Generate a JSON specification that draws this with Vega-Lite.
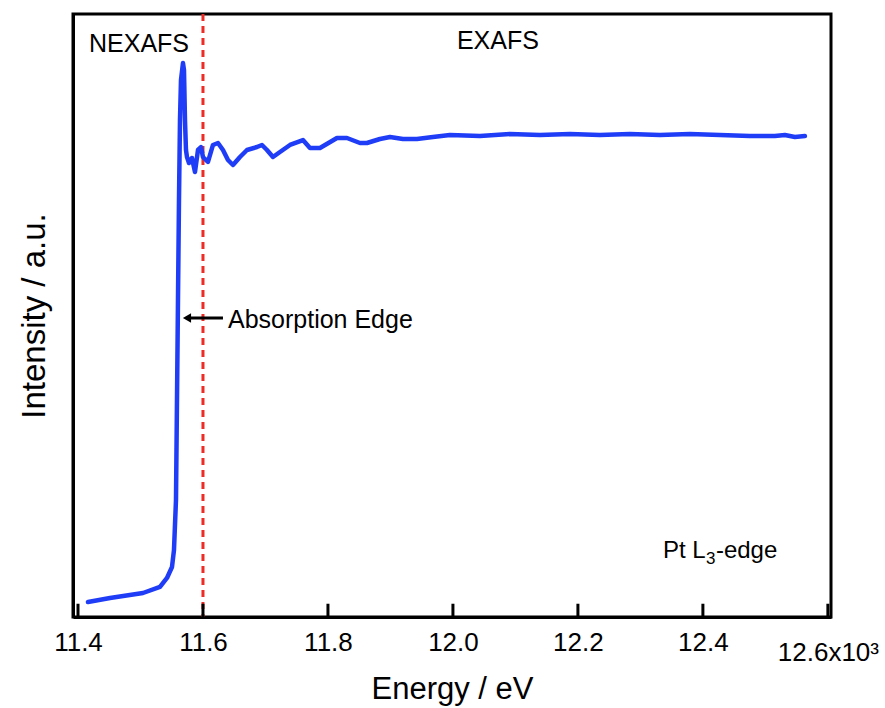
{
  "$schema": "https://vega.github.io/schema/vega-lite/v6.json",
  "width": 758,
  "height": 603,
  "autosize": "none",
  "padding": {"left": 73, "top": 14, "right": 54, "bottom": 91},
  "background": "white",
  "config": {
    "view": {"stroke": "black", "strokeWidth": 3},
    "font": "Liberation Sans"
  },
  "datasets": {
    "spectrum": [
      {"E": 11.416, "I": 0.0249},
      {"E": 11.4512, "I": 0.0315},
      {"E": 11.504, "I": 0.0398},
      {"E": 11.5312, "I": 0.0498},
      {"E": 11.5424, "I": 0.0647},
      {"E": 11.5504, "I": 0.0829},
      {"E": 11.5536, "I": 0.1111},
      {"E": 11.5568, "I": 0.194},
      {"E": 11.5584, "I": 0.3599},
      {"E": 11.56, "I": 0.5257},
      {"E": 11.5616, "I": 0.6915},
      {"E": 11.5632, "I": 0.8242},
      {"E": 11.5648, "I": 0.8905},
      {"E": 11.568, "I": 0.9187},
      {"E": 11.5696, "I": 0.9071},
      {"E": 11.5712, "I": 0.8242},
      {"E": 11.5728, "I": 0.7745},
      {"E": 11.5744, "I": 0.7629},
      {"E": 11.5776, "I": 0.7529},
      {"E": 11.5824, "I": 0.7612},
      {"E": 11.5872, "I": 0.738},
      {"E": 11.592, "I": 0.7745},
      {"E": 11.5968, "I": 0.7794},
      {"E": 11.6, "I": 0.7629},
      {"E": 11.608, "I": 0.7546},
      {"E": 11.616, "I": 0.7828},
      {"E": 11.624, "I": 0.7861},
      {"E": 11.632, "I": 0.7745},
      {"E": 11.64, "I": 0.7579},
      {"E": 11.648, "I": 0.7496},
      {"E": 11.6592, "I": 0.7629},
      {"E": 11.6704, "I": 0.7745},
      {"E": 11.6864, "I": 0.7794},
      {"E": 11.6944, "I": 0.7828},
      {"E": 11.7024, "I": 0.7745},
      {"E": 11.712, "I": 0.7629},
      {"E": 11.7232, "I": 0.7711},
      {"E": 11.7392, "I": 0.7828},
      {"E": 11.76, "I": 0.791},
      {"E": 11.7712, "I": 0.7778},
      {"E": 11.7872, "I": 0.7778},
      {"E": 11.8144, "I": 0.7944},
      {"E": 11.8304, "I": 0.7944},
      {"E": 11.8512, "I": 0.7861},
      {"E": 11.8624, "I": 0.7861},
      {"E": 11.8832, "I": 0.7927},
      {"E": 11.8992, "I": 0.796},
      {"E": 11.92, "I": 0.7927},
      {"E": 11.9424, "I": 0.7927},
      {"E": 11.968, "I": 0.796},
      {"E": 11.9952, "I": 0.7993},
      {"E": 12.0432, "I": 0.7977},
      {"E": 12.0912, "I": 0.801},
      {"E": 12.1392, "I": 0.7993},
      {"E": 12.1872, "I": 0.801},
      {"E": 12.2352, "I": 0.7993},
      {"E": 12.2832, "I": 0.801},
      {"E": 12.3312, "I": 0.7993},
      {"E": 12.3792, "I": 0.801},
      {"E": 12.4272, "I": 0.7993},
      {"E": 12.4752, "I": 0.7977},
      {"E": 12.5152, "I": 0.7977},
      {"E": 12.5312, "I": 0.7993},
      {"E": 12.5472, "I": 0.796},
      {"E": 12.5632, "I": 0.7977}
    ],
    "tickmarks": [
      {"E": 11.4, "lo": 0, "hi": 0.022},
      {"E": 11.6, "lo": 0, "hi": 0.022},
      {"E": 11.8, "lo": 0, "hi": 0.022},
      {"E": 12.0, "lo": 0, "hi": 0.022},
      {"E": 12.2, "lo": 0, "hi": 0.022},
      {"E": 12.4, "lo": 0, "hi": 0.022},
      {"E": 12.6, "lo": 0, "hi": 0.022}
    ],
    "centerLabels": [
      {"E": 11.4976, "I": 0.937, "label": "NEXAFS"},
      {"E": 12.072, "I": 0.942, "label": "EXAFS"}
    ],
    "leftLabels": [
      {"E": 11.64, "I": 0.4793, "label": "Absorption Edge"}
    ],
    "edgeLabel": [
      {"E": 12.336, "I": 0.0978, "main": "Pt L", "sub": "3", "tail": "-edge"}
    ],
    "edge": [{"E": 11.6}],
    "arrow": [{"E": 11.5744, "E2": 11.632, "I": 0.4959}]
  },
  "layer": [
    {
      "data": {"name": "edge"},
      "mark": {"type": "rule", "color": "#ee2b24", "strokeWidth": 3, "strokeDash": [7, 5]},
      "encoding": {
        "x": {"field": "E", "type": "quantitative"}
      }
    },
    {
      "data": {"name": "spectrum"},
      "mark": {"type": "line", "color": "#1f3cf6", "strokeWidth": 4.5, "strokeJoin": "round", "strokeCap": "round"},
      "encoding": {
        "x": {
          "field": "E", "type": "quantitative",
          "scale": {"domain": [11.392, 12.605], "nice": false, "zero": false},
          "axis": {
            "title": "Energy / eV",
            "titleFontSize": 31, "titleFontWeight": "normal", "titleColor": "black",
            "titlePadding": 9,
            "values": [11.4, 11.6, 11.8, 12.0, 12.2, 12.4, 12.6],
            "labelExpr": "abs(datum.value - 12.6) < 0.001 ? '12.6x10³' : format(datum.value, '.1f')",
            "labelFontSize": 26, "labelColor": "black",
            "labelPadding": {"condition": {"test": "abs(datum.value - 12.6) < 0.001", "value": 22}, "value": 12},
            "labelFlush": false, "labelOverlap": false, "labelBound": false,
            "ticks": false,
            "domainColor": "black", "domainWidth": 3,
            "grid": false
          }
        },
        "y": {
          "field": "I", "type": "quantitative",
          "scale": {"domain": [0, 1], "nice": false},
          "axis": {
            "title": "Intensity / a.u.",
            "titleFontSize": 33, "titleFontWeight": "normal", "titleColor": "black",
            "titlePadding": 22,
            "labels": false, "ticks": false,
            "domainColor": "black", "domainWidth": 3,
            "grid": false
          }
        }
      }
    },
    {
      "data": {"name": "tickmarks"},
      "mark": {"type": "rule", "stroke": "black", "strokeWidth": 3, "opacity": 1},
      "encoding": {
        "x": {"field": "E", "type": "quantitative"},
        "y": {"field": "lo", "type": "quantitative"},
        "y2": {"field": "hi"}
      }
    },
    {
      "data": {"name": "arrow"},
      "mark": {"type": "rule", "color": "black", "strokeWidth": 3},
      "encoding": {
        "x": {"field": "E", "type": "quantitative"},
        "x2": {"field": "E2"},
        "y": {"field": "I", "type": "quantitative"}
      }
    },
    {
      "data": {"name": "arrow"},
      "mark": {"type": "point", "shape": "triangle-left", "filled": true, "color": "black", "size": 90, "opacity": 1},
      "encoding": {
        "x": {"field": "E", "type": "quantitative"},
        "y": {"field": "I", "type": "quantitative"}
      }
    },
    {
      "data": {"name": "centerLabels"},
      "mark": {"type": "text", "fontSize": 25, "color": "black", "baseline": "alphabetic", "align": "center"},
      "encoding": {
        "x": {"field": "E", "type": "quantitative"},
        "y": {"field": "I", "type": "quantitative"},
        "text": {"field": "label"}
      }
    },
    {
      "data": {"name": "leftLabels"},
      "mark": {"type": "text", "fontSize": 25, "color": "black", "baseline": "alphabetic", "align": "left"},
      "encoding": {
        "x": {"field": "E", "type": "quantitative"},
        "y": {"field": "I", "type": "quantitative"},
        "text": {"field": "label"}
      }
    },
    {
      "data": {"name": "edgeLabel"},
      "mark": {"type": "text", "fontSize": 24, "color": "black", "baseline": "alphabetic", "align": "left"},
      "encoding": {
        "x": {"field": "E", "type": "quantitative"},
        "y": {"field": "I", "type": "quantitative"},
        "text": {"field": "main"}
      }
    },
    {
      "data": {"name": "edgeLabel"},
      "mark": {"type": "text", "fontSize": 17, "color": "black", "baseline": "alphabetic", "align": "left", "dx": 43, "dy": 6},
      "encoding": {
        "x": {"field": "E", "type": "quantitative"},
        "y": {"field": "I", "type": "quantitative"},
        "text": {"field": "sub"}
      }
    },
    {
      "data": {"name": "edgeLabel"},
      "mark": {"type": "text", "fontSize": 24, "color": "black", "baseline": "alphabetic", "align": "left", "dx": 53},
      "encoding": {
        "x": {"field": "E", "type": "quantitative"},
        "y": {"field": "I", "type": "quantitative"},
        "text": {"field": "tail"}
      }
    }
  ]
}
